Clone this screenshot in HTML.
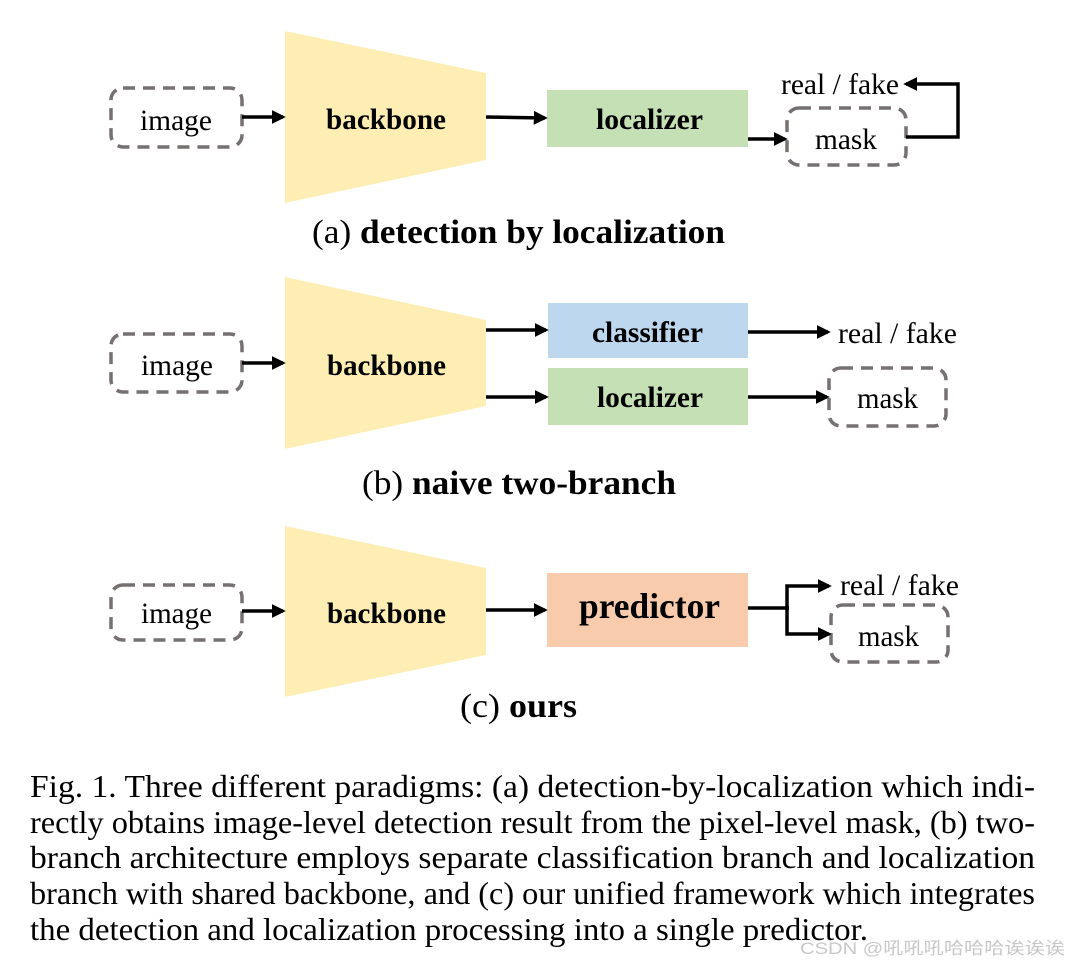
<!DOCTYPE html>
<html><head><meta charset="utf-8"><style>
html,body{margin:0;padding:0;background:#fff;}
svg{display:block;}
text{font-family:"Liberation Serif",serif;fill:#000;}
.b{font-weight:bold;}
</style></head><body>
<svg width="1068" height="966" viewBox="0 0 1068 966" xmlns="http://www.w3.org/2000/svg">
<defs>
<marker id="ah" markerWidth="4" markerHeight="4" refX="3.2" refY="2" orient="auto" markerUnits="strokeWidth">
<path d="M0,0 L4,2 L0,4 z" fill="#000"/></marker>
</defs>
<g fill="none" stroke="#767171" stroke-width="3.5" stroke-dasharray="12,8">
<rect x="111" y="88" width="131" height="59" rx="12"/>
<rect x="787" y="108" width="119" height="57" rx="12"/>
<rect x="111" y="334" width="131" height="58" rx="12"/>
<rect x="829" y="368" width="117" height="58" rx="12"/>
<rect x="111" y="585" width="131" height="55" rx="12"/>
<rect x="831" y="605" width="117" height="57" rx="12"/>
</g>
<g fill="#ffeeb3">
<polygon points="285,31 486,73 486,160 285,203"/>
<polygon points="285,277 486,320 486,406 285,449"/>
<polygon points="285,526 486,568 486,655 285,697"/>
</g>
<rect x="547" y="90" width="201" height="57" fill="#c5e0b4"/>
<rect x="548" y="303" width="200" height="55" fill="#bdd7ee"/>
<rect x="548" y="368" width="200" height="57" fill="#c5e0b4"/>
<rect x="547" y="573" width="201" height="74" fill="#f8cbad"/>
<g stroke="#000" stroke-width="3.5" fill="none" marker-end="url(#ah)">
<line x1="242" y1="117" x2="283" y2="117"/>
<line x1="486" y1="117" x2="545" y2="118"/>
<line x1="748" y1="139" x2="785" y2="139"/>
<polyline points="906,137 958,137 958,84 906,84"/>
<line x1="242" y1="363" x2="283" y2="363"/>
<line x1="486" y1="330" x2="546" y2="330"/>
<line x1="486" y1="397" x2="546" y2="397"/>
<line x1="748" y1="332" x2="828" y2="332"/>
<line x1="748" y1="397" x2="827" y2="397"/>
<line x1="242" y1="611" x2="283" y2="611"/>
<line x1="486" y1="610" x2="545" y2="610"/>
<polyline points="787,608 787,586 829,586"/>
<polyline points="787,608 787,634 829,634"/>
</g>
<line x1="748" y1="608" x2="789" y2="608" stroke="#000" stroke-width="3.5"/>
<g font-size="30">
<text x="140" y="130" textLength="72" lengthAdjust="spacingAndGlyphs">image</text>
<text class="b" x="326" y="129" textLength="120" lengthAdjust="spacingAndGlyphs">backbone</text>
<text class="b" x="596" y="129" textLength="107" lengthAdjust="spacingAndGlyphs">localizer</text>
<text x="781" y="94" textLength="118" lengthAdjust="spacingAndGlyphs">real / fake</text>
<text x="815" y="149" textLength="62" lengthAdjust="spacingAndGlyphs">mask</text>
<text x="141" y="375" textLength="72" lengthAdjust="spacingAndGlyphs">image</text>
<text class="b" x="327" y="375" textLength="119" lengthAdjust="spacingAndGlyphs">backbone</text>
<text class="b" x="592" y="342" textLength="111" lengthAdjust="spacingAndGlyphs">classifier</text>
<text class="b" x="597" y="407" textLength="106" lengthAdjust="spacingAndGlyphs">localizer</text>
<text x="838" y="343" textLength="119" lengthAdjust="spacingAndGlyphs">real / fake</text>
<text x="857" y="408" textLength="61" lengthAdjust="spacingAndGlyphs">mask</text>
<text x="141" y="623" textLength="71" lengthAdjust="spacingAndGlyphs">image</text>
<text class="b" x="327" y="623" textLength="119" lengthAdjust="spacingAndGlyphs">backbone</text>
<text class="b" x="579" y="618" font-size="36" textLength="141" lengthAdjust="spacingAndGlyphs">predictor</text>
<text x="840" y="595" textLength="119" lengthAdjust="spacingAndGlyphs">real / fake</text>
<text x="858" y="646" textLength="61" lengthAdjust="spacingAndGlyphs">mask</text>
</g>
<g font-size="34">
<text x="312" y="243" textLength="413" lengthAdjust="spacingAndGlyphs">(a) <tspan class="b">detection by localization</tspan></text>
<text x="362" y="494" textLength="314" lengthAdjust="spacingAndGlyphs">(b) <tspan class="b">naive two-branch</tspan></text>
<text x="460" y="717" textLength="117" lengthAdjust="spacingAndGlyphs">(c) <tspan class="b">ours</tspan></text>
</g>
<g font-size="32">
<text x="30" y="797" textLength="1005" lengthAdjust="spacingAndGlyphs">Fig. 1.  Three different paradigms: (a) detection-by-localization which indi-</text>
<text x="30" y="833" textLength="1005" lengthAdjust="spacingAndGlyphs">rectly obtains image-level detection result from the pixel-level mask, (b) two-</text>
<text x="30" y="868" textLength="1005" lengthAdjust="spacingAndGlyphs">branch architecture employs separate classification branch and localization</text>
<text x="30" y="904" textLength="1005" lengthAdjust="spacingAndGlyphs">branch with shared backbone, and (c) our unified framework which integrates</text>
<text x="30" y="940" textLength="838" lengthAdjust="spacingAndGlyphs">the detection and localization processing into a single predictor.</text>
</g>
<text x="800" y="954" font-size="17" fill="#c8c8c8" style="fill:#c8c8c8;font-family:'Liberation Sans','Noto Sans CJK SC',sans-serif" textLength="265" lengthAdjust="spacingAndGlyphs">CSDN @吼吼吼哈哈哈诶诶诶</text>
</svg>
</body></html>
